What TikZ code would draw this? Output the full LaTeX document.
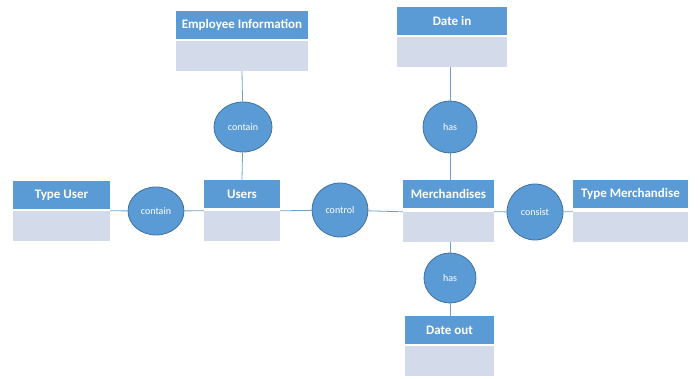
\documentclass[tikz,border=0pt]{standalone}
\usepackage{fontspec}
\setmainfont{Carlito}
\usepackage{xcolor}
\usetikzlibrary{shapes.geometric}

\definecolor{hblue}{HTML}{5B9BD5}
\definecolor{bblue}{HTML}{D3DAEA}
\definecolor{rblue}{HTML}{41719C}
\definecolor{lblue}{HTML}{6C9FD2}

\tikzset{
  head/.style={fill=hblue, text=white, font=\bfseries\fontsize{13}{15}\selectfont, minimum height=28pt, inner sep=0pt},
  body/.style={fill=bblue, minimum height=30pt, inner sep=0pt},
  rel/.style={ellipse, fill=hblue, draw=rblue, line width=0.8pt, text=white, font=\fontsize{10}{11}\selectfont, inner sep=0pt},
  link/.style={draw=lblue, line width=0.8pt}
}

\begin{document}
\begin{tikzpicture}[x=1pt,y=-1pt]
\useasboundingbox (0,0) rectangle (698,379);
% entities
\node[head, minimum width=132pt] (emp) at (242,25) {Employee Information};
\node[body, minimum width=132pt] (emp-b) at (242,56) {};
\node[head, minimum width=110pt] (datein) at (452,21) {Date in};
\node[body, minimum width=110pt] (datein-b) at (452,52) {};
\node[head, minimum width=97pt] (tuser) at (61.5,195) {Type User};
\node[body, minimum width=97pt] (tuser-b) at (61.5,226) {};
\node[head, minimum width=76pt] (users) at (242,194) {Users};
\node[body, minimum width=76pt] (users-b) at (242,226) {};
\node[head, minimum width=91pt] (merch) at (448.5,194) {Merchandises};
\node[body, minimum width=91pt] (merch-b) at (448.5,227) {};
\node[head, minimum width=115pt] (tmerch) at (630.5,194) {Type Merchandise};
\node[body, minimum width=115pt] (tmerch-b) at (630.5,227) {};
\node[head, minimum width=89pt] (dateout) at (449.5,330) {Date out};
\node[body, minimum width=89pt] (dateout-b) at (449.5,361) {};
% relations
\node[rel, minimum width=56pt, minimum height=48pt] (contain1) at (156,211) {contain};
\node[rel, minimum width=58pt, minimum height=50pt] (contain2) at (243,127) {contain};
\node[rel, minimum width=56pt, minimum height=54pt] (control) at (340,210) {control};
\node[rel, minimum width=54pt, minimum height=52pt] (has1) at (450,127) {has};
\node[rel, minimum width=56pt, minimum height=56pt] (consist) at (535,212) {consist};
\node[rel, minimum width=52pt, minimum height=50pt] (has2) at (450,278) {has};
% links
\draw[link] (tuser-b.north east) -- (contain1);
\draw[link] (contain1) -- (users-b.north west);
\draw[link] (users-b.north east) -- (control);
\draw[link] (control) -- (merch-b.north west);
\draw[link] (merch-b.north east) -- (consist);
\draw[link] (consist) -- (tmerch-b.north west);
\draw[link] (emp-b.south) -- (contain2);
\draw[link] (contain2) -- (users.north);
\draw[link] (datein-b.south -| has1) -- (has1);
\draw[link] (has1) -- (merch.north -| has1);
\draw[link] (merch-b.south -| has2) -- (has2);
\draw[link] (has2) -- (dateout.north -| has2);
\end{tikzpicture}
\end{document}
